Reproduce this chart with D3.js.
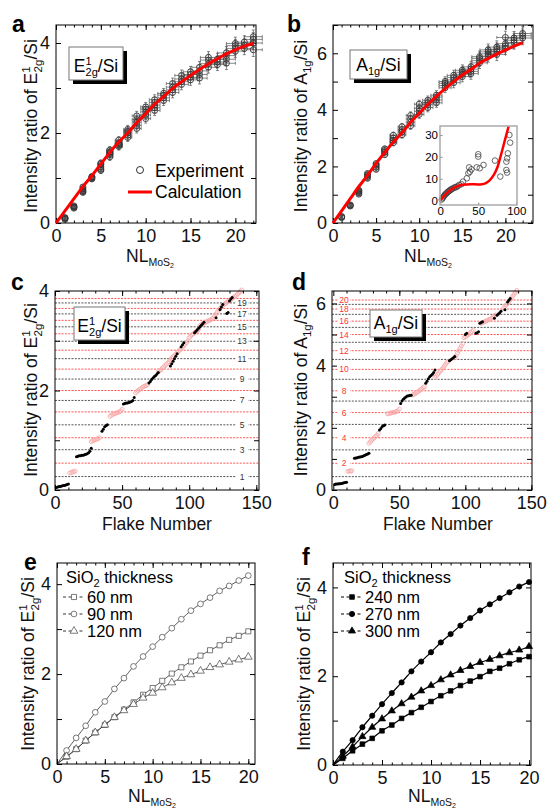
<!DOCTYPE html>
<html>
<head>
<meta charset="utf-8">
<script src="https://cdn.jsdelivr.net/npm/d3@7"></script>
<style>
body { margin: 0; background: #fff; }
text { font-family: "Liberation Sans", Arial, sans-serif; }
</style>
</head>
<body>
<script>
// ---- data ----
const NL = d3.range(1, 23);
const aExp = [
  [0.08, 0.10, 0.11, 0.12], [0.33, 0.35, 0.36, 0.38], [0.68, 0.70, 0.72, 0.76, 0.80], [0.98, 1.00, 1.02, 1.03],
  [1.17, 1.20, 1.25, 1.30, 1.33], [1.47, 1.52, 1.55, 1.58, 1.62], [1.70, 1.73, 1.75, 1.78, 1.84], [1.90, 1.95, 2.00, 2.04, 2.08],
  [2.10, 2.17, 2.24, 2.30, 2.38], [2.32, 2.40, 2.47, 2.53, 2.58], [2.50, 2.56, 2.62, 2.68, 2.74], [2.72, 2.78, 2.84, 2.88],
  [2.90, 2.96, 3.02, 3.10], [3.08, 3.14, 3.20, 3.28], [3.18, 3.24, 3.30, 3.36], [3.22, 3.30, 3.38, 3.46],
  [3.46, 3.54, 3.62, 3.68], [3.52, 3.58, 3.64], [3.55, 3.64, 3.72, 3.78], [3.82, 3.88, 3.94, 3.99],
  [3.88, 3.95, 4.02], [3.85, 4.00, 4.08, 4.14]
];
const aErrX = [0.1, 0.15, 0.2, 0.25, 0.3, 0.35, 0.4, 0.45, 0.5, 0.55, 0.6, 0.65, 0.7, 0.75, 0.8, 0.85, 0.9, 0.95, 1.0, 1.0, 1.0, 1.0];
const aErrY = [0.03, 0.04, 0.05, 0.06, 0.07, 0.08, 0.08, 0.09, 0.1, 0.1, 0.11, 0.11, 0.12, 0.12, 0.12, 0.13, 0.13, 0.13, 0.14, 0.14, 0.14, 0.15];
const calcNL = d3.range(0, 23);
const aCalc = [0, 0.27, 0.54, 0.81, 1.05, 1.31, 1.57, 1.80, 2.00, 2.23, 2.43, 2.64, 2.81, 2.99, 3.14, 3.28, 3.41, 3.54, 3.65, 3.76, 3.85, 3.93, 3.99];

const bExp = [
  [0.19, 0.21, 0.23], [0.60, 0.62, 0.64], [1.02, 1.07, 1.12, 1.16], [1.58, 1.64, 1.70, 1.75],
  [1.90, 1.97, 2.04, 2.10], [2.42, 2.50, 2.56, 2.62], [2.84, 2.92, 3.00, 3.10], [3.12, 3.22, 3.30, 3.40],
  [3.44, 3.56, 3.68, 3.80], [3.84, 3.95, 4.06, 4.20], [4.08, 4.18, 4.26, 4.34], [4.25, 4.35, 4.45, 4.52],
  [4.78, 4.86, 4.94, 5.00], [4.96, 5.06, 5.14, 5.22], [5.18, 5.26, 5.33, 5.40], [5.28, 5.36, 5.44, 5.52],
  [5.66, 5.74, 5.82, 5.88], [5.90, 5.98, 6.05, 6.12], [5.96, 6.06, 6.14, 6.22], [6.18, 6.26, 6.34, 6.56],
  [6.38, 6.46, 6.54], [6.54, 6.62, 6.70]
];
const bErrY = [0.05, 0.06, 0.07, 0.08, 0.09, 0.1, 0.11, 0.12, 0.13, 0.14, 0.15, 0.16, 0.17, 0.18, 0.19, 0.2, 0.2, 0.21, 0.22, 0.22, 0.23, 0.24];
const bCalc = [0, 0.43, 0.86, 1.29, 1.68, 2.11, 2.49, 2.86, 3.19, 3.56, 3.88, 4.20, 4.48, 4.75, 5.00, 5.23, 5.43, 5.65, 5.82, 5.97, 6.11, 6.25, 6.38];

// inset of b
const insetExpX = [2, 3, 4, 5, 6, 7, 8, 9, 10, 11, 12, 13, 14, 15, 16, 18, 20, 21, 23, 25, 28, 30, 35, 37, 39, 41, 38, 48, 50, 50, 52, 57, 72, 79, 87, 88, 87, 88, 89, 92, 91];
const insetExpY = [0.5, 1.1, 1.6, 2.1, 2.6, 3.0, 3.3, 3.6, 4.0, 4.3, 4.4, 4.8, 5.0, 5.3, 5.4, 5.9, 6.2, 6.1, 6.6, 7.2, 7.5, 8.7, 10.2, 12.5, 13.2, 14.3, 15.2, 15.2, 20.1, 21.2, 14.8, 16.3, 18.3, 11.0, 14.0, 12.8, 17.8, 19.3, 21.6, 26.5, 30.0];
const insetCalcX = [0, 5, 10, 15, 20, 25, 30, 40, 50, 55, 60, 65, 70, 75, 80, 85, 90];
const insetCalcY = [0, 2.2, 3.9, 5.2, 6.2, 6.9, 7.3, 7.5, 7.4, 7.5, 8.0, 9.2, 11.5, 15, 21, 27.5, 34];

// c: flake groups [first flake, values...]
const cBlack = [
  [1, [0.05, 0.06, 0.07, 0.07, 0.08, 0.09, 0.09, 0.10, 0.11, 0.12]],
  [16, [0.67, 0.68, 0.69, 0.69, 0.70, 0.70, 0.71, 0.72, 0.73, 0.75, 0.78, 0.84]],
  [35, [1.18, 1.22, 1.27, 1.29, 1.31]],
  [51, [1.73, 1.74, 1.75, 1.75, 1.76, 1.77, 1.78, 1.80, 1.86]],
  [70, [2.15, 2.18, 2.22, 2.25, 2.28, 2.30, 2.33, 2.36]],
  [86, [2.49, 2.54, 2.59, 2.64, 2.69, 2.74]],
  [94, [2.88, 2.92, 2.96]],
  [104, [3.16, 3.19, 3.22, 3.25, 3.28, 3.31, 3.34, 3.37]],
  [120, [3.46]],
  [123, [3.63, 3.68, 3.73]],
  [128, [3.55, 3.57]],
  [130, [3.80, 3.84, 3.87]]
];
const cRed = [
  [11, [0.34, 0.35, 0.36, 0.37, 0.38]],
  [27, [0.97, 0.99, 1.00, 1.01, 1.02, 1.03, 1.05]],
  [41, [1.48, 1.50, 1.52, 1.53, 1.54, 1.55, 1.56, 1.57, 1.59, 1.62]],
  [60, [1.95, 1.98, 2.00, 2.02, 2.04, 2.06, 2.08, 2.09, 2.10, 2.12]],
  [77, [2.38, 2.40, 2.42, 2.45, 2.47, 2.50, 2.53, 2.55, 2.58]],
  [86, [2.62, 2.65, 2.68, 2.70, 2.73, 2.76, 2.79, 2.81, 2.84, 2.87, 2.90, 2.93, 2.96, 3.00]],
  [100, [3.06, 3.09, 3.12, 3.14, 3.16, 3.18, 3.20, 3.23]],
  [108, [3.30, 3.32, 3.34, 3.35, 3.37, 3.38, 3.40, 3.41, 3.42, 3.44, 3.46]],
  [119, [3.50, 3.54, 3.58, 3.62, 3.65, 3.68, 3.71, 3.73, 3.75]],
  [128, [3.77, 3.79, 3.81, 3.83, 3.85, 3.87, 3.89, 3.91, 3.94, 3.96, 3.99, 4.02]]
];
const dBlack = [
  [1, [0.18, 0.19, 0.19, 0.20, 0.20, 0.21, 0.22, 0.23, 0.24, 0.25]],
  [16, [1.02, 1.03, 1.04, 1.05, 1.06, 1.07, 1.08, 1.10, 1.12, 1.14, 1.16, 1.18]],
  [35, [1.93, 1.98, 2.04, 2.07, 2.09]],
  [51, [2.78, 2.86, 2.92, 2.96, 2.99, 3.02, 3.03, 3.04, 3.05]],
  [70, [3.43, 3.50, 3.58, 3.64, 3.68, 3.72, 3.78, 3.86]],
  [88, [4.16, 4.19, 4.22, 4.25, 4.29]],
  [100, [5.00, 5.04]],
  [108, [5.04, 5.06, 5.09]],
  [111, [5.36, 5.39, 5.41]],
  [122, [5.52]],
  [124, [5.62, 5.66, 5.70, 5.75]],
  [130, [5.80]],
  [132, [6.05, 6.10, 6.16]]
];
const dRed = [
  [11, [0.60, 0.61, 0.61, 0.62]],
  [27, [1.50, 1.55, 1.60, 1.64, 1.68, 1.72, 1.76, 1.82]],
  [41, [2.45, 2.46, 2.47, 2.48, 2.49, 2.50, 2.51, 2.52, 2.55, 2.60]],
  [60, [3.05, 3.08, 3.10, 3.13, 3.16, 3.19, 3.22, 3.25, 3.29, 3.32]],
  [77, [3.62, 3.67, 3.72, 3.77, 3.82, 3.87, 3.92, 3.98, 4.04, 4.10, 4.14]],
  [92, [4.25, 4.32, 4.40, 4.48, 4.56, 4.63, 4.71]],
  [99, [4.90, 4.93, 4.96, 4.99, 5.02, 5.06, 5.10, 5.14]],
  [112, [5.36, 5.38, 5.40, 5.42, 5.44, 5.46, 5.48, 5.50, 5.53, 5.56, 5.60, 5.63]],
  [129, [5.85, 5.90, 5.95, 6.00, 6.06, 6.12, 6.18, 6.24, 6.30, 6.36, 6.42]]
];
const levelNL = d3.range(1, 21);

// e, f: calculated curves for several SiO2 thicknesses
const efNL = d3.range(0, 21);
const e60 = [0, 0.16, 0.33, 0.52, 0.70, 0.87, 1.04, 1.21, 1.37, 1.54, 1.69, 1.85, 2.01, 2.15, 2.28, 2.41, 2.53, 2.64, 2.76, 2.85, 2.95];
const e90 = [0, 0.30, 0.58, 0.85, 1.15, 1.39, 1.67, 1.91, 2.17, 2.39, 2.61, 2.82, 3.02, 3.22, 3.41, 3.56, 3.70, 3.85, 3.96, 4.08, 4.19];
const e120 = [0, 0.17, 0.33, 0.52, 0.70, 0.87, 1.04, 1.19, 1.33, 1.47, 1.58, 1.70, 1.81, 1.91, 1.99, 2.07, 2.15, 2.21, 2.27, 2.32, 2.38];
const f240 = [0, 0.15, 0.32, 0.47, 0.60, 0.77, 0.90, 1.05, 1.18, 1.30, 1.43, 1.56, 1.67, 1.79, 1.89, 1.99, 2.11, 2.18, 2.28, 2.37, 2.44];
const f270 = [0, 0.30, 0.56, 0.85, 1.11, 1.37, 1.62, 1.86, 2.11, 2.33, 2.54, 2.76, 2.95, 3.14, 3.31, 3.48, 3.62, 3.76, 3.89, 4.02, 4.12];
const f300 = [0, 0.20, 0.41, 0.64, 0.85, 1.04, 1.22, 1.38, 1.53, 1.67, 1.79, 1.92, 2.03, 2.13, 2.22, 2.31, 2.38, 2.46, 2.53, 2.59, 2.67];

// ---- drawing ----
const svg = d3.select("body").append("svg")
  .attr("width", 547)
  .attr("height", 811);

function panel(box, xd, yd) {
  const g = svg.append("g").attr("transform", `translate(${box[0]},${box[1]})`);
  const w = box[2] - box[0], h = box[3] - box[1];
  const x = d3.scaleLinear().domain(xd).range([0, w]);
  const y = d3.scaleLinear().domain(yd).range([h, 0]);
  return { g, x, y, w, h };
}

// inward ticks on all four sides, labels on left and bottom
function axes(p, xt, yt) {
  const sets = [
    [d3.axisBottom, p.x, xt.major, xt.labels, 5, `translate(0,${p.h})`],
    [d3.axisBottom, p.x, xt.minor, [], 2.5, `translate(0,${p.h})`],
    [d3.axisTop, p.x, xt.major, [], 5, "translate(0,0)"],
    [d3.axisTop, p.x, xt.minor, [], 2.5, "translate(0,0)"],
    [d3.axisLeft, p.y, yt.major, yt.labels, 5, "translate(0,0)"],
    [d3.axisLeft, p.y, yt.minor, [], 2.5, "translate(0,0)"],
    [d3.axisRight, p.y, yt.major, [], 5, `translate(${p.w},0)`],
    [d3.axisRight, p.y, yt.minor, [], 2.5, `translate(${p.w},0)`]
  ];
  sets.forEach(([fn, sc, vals, labs, len, tr]) => {
    const ax = fn(sc).tickValues(vals || []).tickSize(-len).tickPadding(6)
      .tickFormat(d => labs.includes(d) ? d : "");
    const ga = p.g.append("g").attr("transform", tr).call(ax);
    ga.select(".domain").remove();
    ga.selectAll("line").attr("stroke", "#000");
    ga.selectAll("text").attr("font-size", 18).attr("fill", "#111")
      .attr("font-family", "'Liberation Sans', Arial, sans-serif");
  });
  p.g.append("rect").attr("width", p.w).attr("height", p.h)
    .attr("fill", "none").attr("stroke", "#000").attr("stroke-width", 1);
}

function letter(t, x, y) {
  svg.append("text").attr("x", x).attr("y", y).attr("font-size", 23)
    .attr("font-weight", "bold").text(t);
}

function yLabel(cx, cy, mode) {
  const t = svg.append("text").attr("transform", `translate(${cx},${cy}) rotate(-90)`)
    .attr("text-anchor", "middle").attr("font-size", 17.5).attr("fill", "#111");
  t.append("tspan").text("Intensity ratio of " + (mode === "A" ? "A" : "E"));
  if (mode === "A") {
    t.append("tspan").attr("font-size", 11.5).attr("dy", 4).text("1g");
    t.append("tspan").attr("dy", -4).text("/Si");
  } else {
    t.append("tspan").attr("font-size", 11.5).attr("dy", -7).text("1");
    t.append("tspan").attr("font-size", 11.5).attr("dx", -6).attr("dy", 12).text("2g");
    t.append("tspan").attr("dy", -5).text("/Si");
  }
}

function xLabelNL(cx, y) {
  const t = svg.append("text").attr("x", cx).attr("y", y).attr("text-anchor", "middle")
    .attr("font-size", 17.5).attr("fill", "#111");
  t.append("tspan").text("NL");
  t.append("tspan").attr("font-size", 10.5).attr("dy", 4).text("MoS");
  t.append("tspan").attr("font-size", 7).attr("dy", 2).text("2");
}

function tagBox(x, y, w, h, mode) {
  svg.append("rect").attr("x", x + 4).attr("y", y + 4).attr("width", w).attr("height", h).attr("fill", "#000");
  svg.append("rect").attr("x", x).attr("y", y).attr("width", w).attr("height", h)
    .attr("fill", "#fff").attr("stroke", "#777").attr("stroke-width", 1);
  const t = svg.append("text").attr("x", x + w / 2).attr("y", y + h - 8)
    .attr("text-anchor", "middle").attr("font-size", 17.5);
  if (mode === "A") {
    t.append("tspan").text("A");
    t.append("tspan").attr("font-size", 11).attr("dy", 4).text("1g");
    t.append("tspan").attr("dy", -4).text("/Si");
  } else {
    t.append("tspan").text("E");
    t.append("tspan").attr("font-size", 11).attr("dy", -7).text("1");
    t.append("tspan").attr("font-size", 11).attr("dx", -6).attr("dy", 11).text("2g");
    t.append("tspan").attr("dy", -4).text("/Si");
  }
}

function expPoints(p, exp, errX, errY) {
  const pts = [];
  exp.forEach((vals, i) => vals.forEach(v => pts.push({ n: NL[i], v, ex: errX[i], ey: errY[i] })));
  const g = p.g.append("g").attr("stroke", "#555").attr("stroke-width", 0.7).attr("fill", "none");
  pts.forEach(d => {
    const cx = p.x(d.n), cy = p.y(d.v);
    const x0 = p.x(Math.max(0, d.n - d.ex)), x1 = p.x(d.n + d.ex);
    const y0 = p.y(d.v - d.ey), y1 = p.y(d.v + d.ey);
    g.append("line").attr("x1", x0).attr("x2", x1).attr("y1", cy).attr("y2", cy);
    g.append("line").attr("x1", cx).attr("x2", cx).attr("y1", y0).attr("y2", y1);
    [x0, x1].forEach(xx => g.append("line").attr("x1", xx).attr("x2", xx).attr("y1", cy - 1.5).attr("y2", cy + 1.5));
    [y0, y1].forEach(yy => g.append("line").attr("x1", cx - 1.5).attr("x2", cx + 1.5).attr("y1", yy).attr("y2", yy));
  });
  p.g.append("g").selectAll("circle").data(pts).join("circle")
    .attr("cx", d => p.x(d.n)).attr("cy", d => p.y(d.v)).attr("r", 3)
    .attr("fill", "none").attr("stroke", "#333").attr("stroke-width", 0.9);
}

function calcLine(p, xs, ys) {
  p.g.append("path").datum(xs.map((x, i) => [x, ys[i]]))
    .attr("fill", "none").attr("stroke", "#f00").attr("stroke-width", 3)
    .attr("d", d3.line().x(d => p.x(d[0])).y(d => p.y(d[1])).curve(d3.curveMonotoneX));
}

// ---- panel a ----
const pa = panel([56, 25, 256, 223], [0, 22.3], [0, 4.4]);
axes(pa, { major: [0, 5, 10, 15, 20], labels: [0, 5, 10, 15, 20], minor: d3.range(1, 23) },
  { major: [0, 1, 2, 3, 4], labels: [0, 2, 4], minor: [] });
expPoints(pa, aExp, aErrX, aErrY);
calcLine(pa, calcNL, aCalc);
letter("a", 12, 32);
yLabel(37, 126, "E");
xLabelNL(150, 262);
tagBox(69, 47, 54, 33, "E");
svg.append("circle").attr("cx", 140).attr("cy", 170).attr("r", 3.5).attr("fill", "none").attr("stroke", "#333");
svg.append("text").attr("x", 155).attr("y", 177).attr("font-size", 17.5).text("Experiment");
svg.append("line").attr("x1", 128).attr("x2", 152).attr("y1", 192).attr("y2", 192).attr("stroke", "#f00").attr("stroke-width", 3);
svg.append("text").attr("x", 155).attr("y", 198).attr("font-size", 17.5).text("Calculation");

// ---- panel b ----
const pb = panel([333, 25, 533, 223], [0, 23.2], [0, 7]);
axes(pb, { major: [0, 5, 10, 15, 20], labels: [0, 5, 10, 15, 20], minor: d3.range(1, 24) },
  { major: [0, 1, 2, 3, 4, 5, 6, 7], labels: [0, 2, 4, 6], minor: [] });
expPoints(pb, bExp, aErrX, bErrY);
calcLine(pb, calcNL, bCalc);
letter("b", 287, 32);
yLabel(307, 126, "A");
xLabelNL(428, 262);
tagBox(350, 50, 57, 29, "A");

// inset
const pin = panel([440, 126, 517, 205], [-0.3, 101], [-2, 34.1]);
pin.g.append("rect").attr("width", pin.w).attr("height", pin.h).attr("fill", "#fff");
pin.g.append("g").selectAll("circle").data(insetExpX).join("circle")
  .attr("cx", (d, i) => pin.x(d)).attr("cy", (d, i) => pin.y(insetExpY[i])).attr("r", 2.8)
  .attr("fill", "none").attr("stroke", "#444").attr("stroke-width", 0.8);
pin.g.append("path").datum(insetCalcX.map((x, i) => [x, insetCalcY[i]]))
  .attr("fill", "none").attr("stroke", "#f00").attr("stroke-width", 2.5)
  .attr("d", d3.line().x(d => pin.x(d[0])).y(d => pin.y(d[1])).curve(d3.curveMonotoneX));
[[d3.axisBottom(pin.x).tickValues([0, 50, 100]), `translate(0,${pin.h})`],
 [d3.axisLeft(pin.y).tickValues([0, 10, 20, 30]), "translate(0,0)"]].forEach(([ax, tr]) => {
  const ga = pin.g.append("g").attr("transform", tr).call(ax.tickSize(-2.5).tickPadding(2));
  ga.select(".domain").remove();
  ga.selectAll("line").attr("stroke", "#888");
  ga.selectAll("text").attr("font-size", 11.5).attr("fill", "#000").attr("font-family", "'Liberation Sans', Arial, sans-serif");
});
pin.g.append("rect").attr("width", pin.w).attr("height", pin.h)
  .attr("fill", "none").attr("stroke", "#aaa").attr("stroke-width", 1.5);

// ---- panels c, d ----
function flakePanel(p, black, red, levels, labelVals, labelX, labelColor) {
  const lg = p.g.append("g");
  levels.forEach((v, i) => {
    lg.append("line").attr("x1", 0).attr("x2", p.w).attr("y1", p.y(v)).attr("y2", p.y(v))
      .attr("stroke", levelNL[i] % 2 ? "#555" : "#f55").attr("stroke-width", 1)
      .attr("stroke-dasharray", "2,1.3");
  });
  const redPts = [], blackPts = [];
  red.forEach(([s, vals]) => vals.forEach((v, j) => redPts.push([s + j, v])));
  black.forEach(([s, vals]) => vals.forEach((v, j) => blackPts.push([s + j, v])));
  p.g.append("g").selectAll("circle").data(redPts).join("circle")
    .attr("cx", d => p.x(d[0])).attr("cy", d => p.y(d[1])).attr("r", 2)
    .attr("fill", "none").attr("stroke", "#f8a8a8").attr("stroke-width", 0.8);
  p.g.append("g").selectAll("circle").data(blackPts).join("circle")
    .attr("cx", d => p.x(d[0])).attr("cy", d => p.y(d[1])).attr("r", 1.5)
    .attr("fill", "#000");
  levels.forEach((v, i) => {
    if (!labelVals.includes(levelNL[i])) return;
    p.g.append("rect").attr("x", labelX - 6).attr("y", p.y(v) - 3.5).attr("width", 12).attr("height", 7).attr("fill", "#fff");
    p.g.append("text").attr("x", labelX).attr("y", p.y(v) + 3).attr("text-anchor", "middle")
      .attr("font-size", 8.5).attr("fill", labelColor).text(levelNL[i]);
  });
}

const pc = panel([55, 291, 259, 490], [0, 152], [0, 4]);
flakePanel(pc, cBlack, cRed, aCalc.slice(1, 21), [1, 3, 5, 7, 9, 11, 13, 15, 17, 19], 187, "#333");
axes(pc, { major: [0, 50, 100, 150], labels: [0, 50, 100, 150], minor: d3.range(10, 151, 10) },
  { major: [0, 1, 2, 3, 4], labels: [0, 2, 4], minor: [] });
letter("c", 11, 290);
yLabel(37, 390, "E");
tagBox(74, 307, 51, 33, "E");
svg.append("text").attr("x", 157).attr("y", 530).attr("text-anchor", "middle").attr("font-size", 17.5).attr("fill", "#111").text("Flake Number");

const pd = panel([332, 291, 532, 490], [-1, 150.5], [0, 6.4]);
flakePanel(pd, dBlack, dRed, bCalc.slice(1, 21), [2, 4, 6, 8, 10, 12, 14, 16, 18, 20], 12, "#f33");
axes(pd, { major: [0, 50, 100, 150], labels: [0, 50, 100, 150], minor: d3.range(10, 151, 10) },
  { major: [0, 1, 2, 3, 4, 5, 6], labels: [0, 2, 4, 6], minor: [] });
letter("d", 292, 290);
yLabel(307, 390, "A");
tagBox(370, 310, 52, 27, "A");
svg.append("text").attr("x", 438).attr("y", 530).attr("text-anchor", "middle").attr("font-size", 17.5).attr("fill", "#111").text("Flake Number");

// ---- panels e, f ----
function marker(sel, shape, filled, s) {
  const sym = { square: d3.symbolSquare, circle: d3.symbolCircle, triangle: d3.symbolTriangle }[shape];
  sel.append("path").attr("d", d3.symbol().type(sym).size(s))
    .attr("fill", filled ? "#000" : "#fff").attr("stroke", filled ? "#000" : "#444").attr("stroke-width", 0.7);
}

function thickPanel(p, series, filled) {
  series.forEach(([vals, shape]) => {
    p.g.append("path").datum(vals)
      .attr("fill", "none").attr("stroke", filled ? "#000" : "#333").attr("stroke-width", filled ? 1.2 : 0.8)
      .attr("d", d3.line().x((d, i) => p.x(efNL[i])).y(d => p.y(d)).curve(d3.curveMonotoneX));
    vals.forEach((v, i) => {
      if (i === 0) return;
      const m = p.g.append("g").attr("transform", `translate(${p.x(efNL[i])},${p.y(v)})`);
      marker(m, shape, filled, filled ? 22 : 26);
    });
  });
}

const pe = panel([57, 563, 255, 764], [0, 20.7], [0, 4.47]);
thickPanel(pe, [[e60, "square"], [e90, "circle"], [e120, "triangle"]], false);
axes(pe, { major: [0, 5, 10, 15, 20], labels: [0, 5, 10, 15, 20], minor: d3.range(1, 21) },
  { major: [0, 1, 2, 3, 4], labels: [0, 2, 4], minor: [] });
letter("e", 24, 570);
yLabel(34, 664, "E");
xLabelNL(152, 802);

const pf = panel([333, 563, 531, 765], [0, 20.2], [0, 4.55]);
thickPanel(pf, [[f240, "square"], [f270, "circle"], [f300, "triangle"]], true);
axes(pf, { major: [0, 5, 10, 15, 20], labels: [0, 5, 10, 15, 20], minor: d3.range(1, 21) },
  { major: [0, 1, 2, 3, 4], labels: [0, 2, 4], minor: [] });
letter("f", 302, 565);
yLabel(310, 664, "E");
xLabelNL(432, 802);

function thickLegend(x, names, shapes, filled) {
  const t = svg.append("text").attr("x", x).attr("y", 583).attr("font-size", 16.5);
  t.append("tspan").text("SiO");
  t.append("tspan").attr("font-size", 11).attr("dy", 4).text("2");
  t.append("tspan").attr("dy", -4).text(" thickness");
  names.forEach((n, i) => {
    const yy = 602 + i * 17;
    svg.append("line").attr("x1", x - 3).attr("x2", x + 19).attr("y1", yy - 5).attr("y2", yy - 5)
      .attr("stroke", "#000").attr("stroke-width", filled ? 1.2 : 0.8).attr("stroke-dasharray", "3,2.5");
    const m = svg.append("g").attr("transform", `translate(${x + 8},${yy - 5})`);
    marker(m, shapes[i], filled, filled ? 22 : 26);
    svg.append("text").attr("x", x + 21).attr("y", yy + 1).attr("font-size", 16.5).text(n);
  });
}
thickLegend(66, ["60 nm", "90 nm", "120 nm"], ["square", "circle", "triangle"], false);
thickLegend(344, ["240 nm", "270 nm", "300 nm"], ["square", "circle", "triangle"], true);
</script>
</body>
</html>
